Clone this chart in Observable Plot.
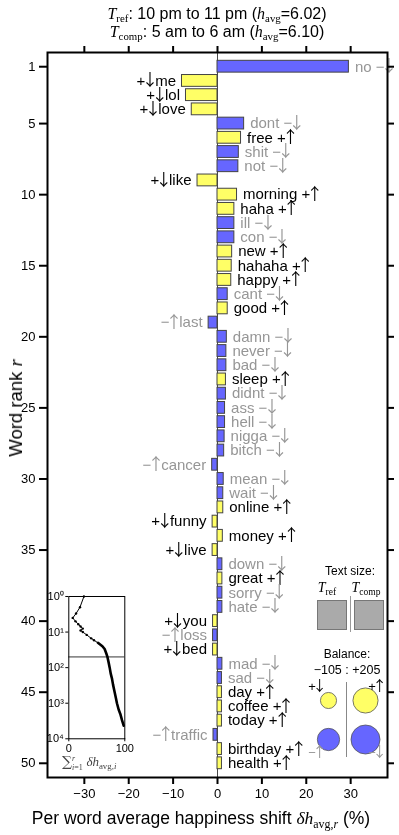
<!DOCTYPE html>
<html><head><meta charset="utf-8">
<script src="https://cdn.jsdelivr.net/npm/d3@7"></script>
<script src="https://cdn.jsdelivr.net/npm/@observablehq/plot@0.6"></script>
<style>
html,body{margin:0;padding:0;background:#fff;}
#wrap{position:relative;width:399px;height:835px;overflow:hidden;font-family:"Liberation Sans",Arial,Helvetica,sans-serif;color:#000;-webkit-font-smoothing:antialiased;}
#wrap svg{position:absolute;overflow:visible;will-change:transform;}
.abs{position:absolute;white-space:nowrap;}
.m{font-family:"Liberation Serif","DejaVu Serif",serif;font-style:italic;}
.sb{font-family:"Liberation Serif","DejaVu Serif",serif;font-size:68%;position:relative;top:0.3em;line-height:0;}
.c{transform:translate(-50%,-50%);}
</style></head><body><div id="wrap"></div>
<script>
// ---- data ----
const words = ["no","me","lol","love","dont","free","shit","not","like","morning",
  "haha","ill","con","new","hahaha","happy","cant","good","last","damn",
  "never","bad","sleep","didnt","ass","hell","nigga","bitch","cancer","mean",
  "wait","online","funny","money","live","down","great","sorry","hate","you",
  "loss","bed","mad","sad","day","coffee","today","traffic","birthday","health"];
const shifts = [29.6,-8.0,-7.1,-5.8,6.0,5.3,4.8,4.7,-4.5,4.4,
  3.8,3.8,3.8,3.3,3.2,3.1,2.3,2.3,-2.0,2.1,
  2.0,2.0,1.9,1.9,1.7,1.7,1.6,1.5,-1.2,1.4,
  1.3,1.3,-1.1,1.2,-1.1,1.1,1.1,1.1,1.1,-1.0,
  -1.0,-1.0,1.1,1.0,1.0,1.0,1.0,-0.9,1.0,1.0];
// "+" = happier word (yellow), "-" = sadder word (blue)
const kinds = ["-","+","+","+","-","+","-","-","+","+",
  "+","-","-","+","+","+","-","+","-","-",
  "-","-","+","-","-","-","-","-","-","-",
  "-","+","+","+","+","-","+","-","-","+",
  "-","+","-","-","+","+","+","-","+","+"];
const xTicks = [-30,-20,-10,0,10,20,30];
const yTicks = [1,5,10,15,20,25,30,35,40,45,50];
const title1 = ["ref","10 pm to 11 pm","6.02"];
const title2 = ["comp","5 am to 6 am","6.10"];
// inset: cumulative shift vs rank
const insetRanks = [1,2,3,4,5,6,7,8,9,10,12,15,17,20,25,30,40,50,70,100,150,200,300,500,700,1000,1500,2000,3000,4300];
const insetCum   = [27,20,13,7,12,17,21,25,21,25,32,40,45,52,60,64,67,69,71,73,75,77,79,82,84,86,89,92,95,98];
const insetTicksY = [1,10,100,1000,10000];
const insetTicksX = [0,100];
// balance legend
const balKinds = ["+↓","+↑","−↑","−↓"];
const balSides = ["neg","pos","neg","pos"];
const balTypes = ["+","+","-","-"];
const balValues = [36,88,69,117];

const YEL = "#ffff66", BLU = "#6666ff", GRAY = "#969696";
const FONT = "Liberation Sans, Arial, Helvetica, sans-serif";
const ARROWFONT = "Noto Sans CJK JP";

const data = words.map((w,i)=>({rank:i+1, word:w, shift:shifts[i], kind:kinds[i]}));
const lab = d => d.shift >= 0
  ? `${d.word} ${d.kind==="+" ? "+↑" : "−↓"}`
  : `${d.kind==="+" ? "+↓" : "−↑"}${d.word}`;

const wrap = document.getElementById("wrap");

const main = Plot.plot({
  width:399, height:835, marginTop:52, marginBottom:58, marginLeft:47, marginRight:12,
  x:{domain:[-38.3,38.3]},
  y:{domain:[0,51], reverse:true},
  color:{domain:["+","-"], range:[YEL,BLU]},
  style:{fontFamily:FONT, fontSize:"13px", background:"transparent", color:"#000"},
  marks:[
    Plot.ruleX([0], {stroke:"#333", strokeWidth:0.9}),
    Plot.rect(data, {x1:0, x2:"shift", y1:d=>d.rank-0.5, y2:d=>d.rank+0.5,
      insetTop:1.2, insetBottom:1.2, fill:"kind", stroke:"#444", strokeWidth:1}),
    Plot.text(data.filter(d=>d.shift>=0 && d.kind==="+"), {x:"shift", y:"rank", text:lab, dx:6, textAnchor:"start", fill:"#000", fontSize:15}),
    Plot.text(data.filter(d=>d.shift>=0 && d.kind==="-"), {x:"shift", y:"rank", text:lab, dx:6, textAnchor:"start", fill:GRAY, fontSize:15}),
    Plot.text(data.filter(d=>d.shift<0 && d.kind==="+"), {x:"shift", y:"rank", text:lab, dx:-6, textAnchor:"end", fill:"#000", fontSize:15}),
    Plot.text(data.filter(d=>d.shift<0 && d.kind==="-"), {x:"shift", y:"rank", text:lab, dx:-6, textAnchor:"end", fill:GRAY, fontSize:15}),
    Plot.axisX({anchor:"bottom", ticks:xTicks, tickSize:7, tickPadding:4, label:null, strokeWidth:2}),
    Plot.axisX({anchor:"top", ticks:xTicks, tickSize:7, tickFormat:()=>"", label:null, strokeWidth:2}),
    Plot.axisY({anchor:"left", ticks:yTicks, tickSize:8, tickPadding:4, label:null, strokeWidth:2}),
    Plot.axisY({anchor:"right", ticks:yTicks, tickSize:6, tickFormat:()=>"", label:null, strokeWidth:2}),
    Plot.frame({stroke:"#000", strokeWidth:2})
  ]
});
main.style.left = "0px"; main.style.top = "0px";
wrap.appendChild(main);

// inset
const sup = ["⁰","¹","²","³","⁴"];
const insetData = insetRanks.map((r,i)=>({r, c:insetCum[i]}));
const inset = Plot.plot({
  width:100.3, height:172.3, marginLeft:30.3, marginRight:14, marginTop:10, marginBottom:20,
  x:{domain:[0,100]},
  y:{type:"log", domain:[1,10000], reverse:true},
  style:{fontFamily:FONT, fontSize:"11px", background:"transparent", color:"#000"},
  marks:[
    Plot.ruleY([words.length], {stroke:"#000", strokeWidth:0.8}),
    Plot.line(insetData, {x:"c", y:"r", stroke:"#000", strokeWidth:1}),
    Plot.line(insetData.filter(d=>d.r>=20), {x:"c", y:"r", stroke:"#000", strokeWidth:2.6}),
    Plot.dot(insetData.filter(d=>d.r<20), {x:"c", y:"r", r:1.2, fill:"#000"}),
    Plot.axisY({ticks:insetTicksY, tickFormat:d=>"10"+sup[Math.round(Math.log10(d))], tickSize:3, tickPadding:2, label:null}),
    Plot.axisX({ticks:insetTicksX, tickSize:3, tickPadding:2, label:null}),
    Plot.frame({stroke:"#000", strokeWidth:1})
  ]
});
inset.style.left = "38px"; inset.style.top = "586px";
wrap.appendChild(inset);

// balance circles
const bal = balKinds.map((k,i)=>({k, side:balSides[i], type:balTypes[i], v:balValues[i]}));
const balPlot = Plot.plot({
  width:100, height:95, margin:0,
  x:{type:"point", domain:["neg","pos"], range:[30.7,68], padding:0, axis:null},
  y:{type:"point", domain:["+","-"], range:[28,67], padding:0, axis:null},
  r:{domain:[0,d3.max(balValues)], range:[0,14.5]},
  color:{domain:["+","-"], range:[YEL,BLU]},
  style:{fontFamily:FONT, fontSize:"13px", background:"transparent"},
  marks:[
    Plot.dot(bal, {x:"side", y:"type", r:"v", fill:"type", stroke:"#555", strokeWidth:0.8}),
    ...bal.map(d=>Plot.text([d], {x:"side", y:"type", text:"k",
      dx: d.side==="neg" ? -11 : 12, dy: d.type==="+" ? -14 : 13,
      fill: d.type==="+" ? "#000" : GRAY, fontSize:13}))
  ]
});
balPlot.style.left = "297px"; balPlot.style.top = "672px";
wrap.appendChild(balPlot);

// render arrows with a thin, tall arrow glyph (like TeX arrows)
for (const svg of [main, balPlot]) {
  d3.select(svg).selectAll("text").each(function() {
    const t = this.textContent;
    if (!/[↑↓]/.test(t)) return;
    const el = d3.select(this);
    el.text(null);
    let afterArrow = false;
    for (const part of t.split(/([↑↓])/)) {
      if (!part) continue;
      const ts = el.append("tspan").text(part);
      if (part === "↑" || part === "↓") {
        ts.attr("font-family", ARROWFONT).attr("font-size", "1.1em").attr("dx", "-0.22em").attr("dy", "0.04em");
        afterArrow = true;
      } else if (afterArrow) {
        ts.attr("dx", "-0.2em").attr("dy", "-0.04em");
        afterArrow = false;
      }
    }
  });
}

const negSum = d3.sum(balValues.filter((v,i)=>balSides[i]==="neg"));
const posSum = d3.sum(balValues.filter((v,i)=>balSides[i]==="pos"));

const html = `
<div class="abs" style="left:0;width:434px;top:5px;text-align:center;font-size:16px;line-height:18px">
  <span class="m">T</span><span class="sb">${title1[0]}</span>: ${title1[1]} (<span class="m">h</span><span class="sb">avg</span>=${title1[2]})<br>
  <span class="m">T</span><span class="sb">${title2[0]}</span>: ${title2[1]} (<span class="m">h</span><span class="sb">avg</span>=${title2[2]})
</div>
<div class="abs" style="left:16px;top:408px;font-size:18.5px;transform:translate(-50%,-50%) rotate(-90deg)">Word rank <span class="m">r</span></div>
<div class="abs" style="left:201px;top:818px;font-size:17.5px"><div style="transform:translate(-50%,-50%)">Per word average happiness shift <span class="m">δh</span><span class="sb">avg,<i>r</i></span> (%)</div></div>
<div class="abs" style="left:62px;top:754px;font-size:13px;color:#444;line-height:14px">
  <span style="font-family:'DejaVu Serif',serif;font-size:14px">∑</span><span style="display:inline-block;vertical-align:middle;font-size:8px;line-height:9px;font-family:'Liberation Serif',serif"><i>r</i><br><i>i</i>=1</span> <span class="m">δh</span><span class="sb">avg,<i>i</i></span>
</div>
<div class="abs" style="left:350px;top:571px;font-size:12px"><div class="c">Text size:</div></div>
<div class="abs" style="left:327px;top:587px;font-size:14px"><div class="c"><span class="m">T</span><span class="sb">ref</span></div></div>
<div class="abs" style="left:366px;top:587px;font-size:14px"><div class="c"><span class="m">T</span><span class="sb">comp</span></div></div>
<div class="abs" style="left:317px;top:600px;width:28px;height:28px;background:#aaa;border:1px solid #777"></div>
<div class="abs" style="left:354px;top:600px;width:28px;height:28px;background:#aaa;border:1px solid #777"></div>
<div class="abs" style="left:350px;top:596px;width:1px;height:36px;background:#999"></div>
<div class="abs" style="left:347px;top:654px;font-size:12px"><div class="c">Balance:</div></div>
<div class="abs" style="left:347px;top:670px;font-size:12.5px"><div class="c">−${negSum} : +${posSum}</div></div>
<div class="abs" style="left:346px;top:682px;width:1px;height:75px;background:#888"></div>
`;
wrap.insertAdjacentHTML("beforeend", html);
</script>
</body></html>
